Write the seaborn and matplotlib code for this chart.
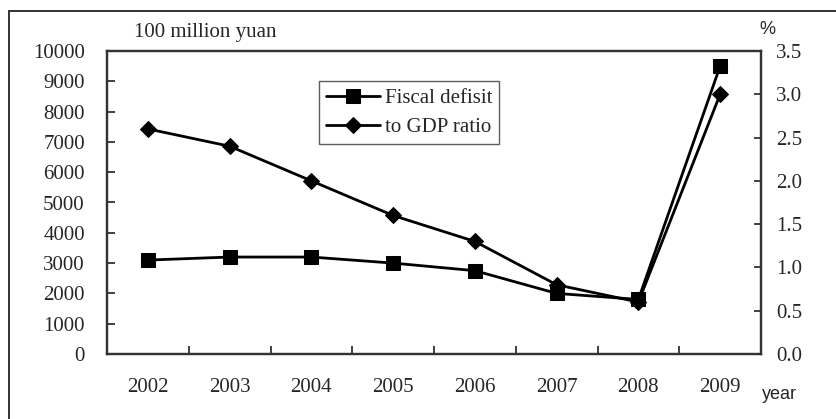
import matplotlib
matplotlib.use("Agg")
import matplotlib.pyplot as plt
from matplotlib.patches import Rectangle
from matplotlib.ticker import FixedLocator, NullFormatter
import seaborn as sns
import pandas as pd

# Data
years = ["2002", "2003", "2004", "2005", "2006", "2007", "2008", "2009"]
deficit = [3100, 3200, 3200, 3000, 2750, 2000, 1800, 9500]   # 100 million yuan
gdp_ratio = [2.6, 2.4, 2.0, 1.6, 1.3, 0.8, 0.6, 3.0]         # %

left_ticks = [0, 1000, 2000, 3000, 4000, 5000, 6000, 7000, 8000, 9000, 10000]
right_ticks = [0.0, 0.5, 1.0, 1.5, 2.0, 2.5, 3.0, 3.5]

sns.set_style("white")
plt.rcParams["font.family"] = ["Liberation Serif", "DejaVu Serif"]
FS = 15

df = pd.DataFrame({"pos": range(len(years)), "year": years,
                   "deficit": deficit, "ratio": gdp_ratio})

fig = plt.figure(figsize=(8.37, 4.19), dpi=100)
ax = fig.add_axes([107 / 837, 65 / 419, 654 / 837, 303 / 419])
ax2 = ax.twinx()

sns.lineplot(data=df, x="pos", y="deficit", ax=ax, color="black",
             marker="s", markersize=10.5, markeredgecolor="black",
             linewidth=2.0, label="Fiscal defisit", legend=False)
sns.lineplot(data=df, x="pos", y="ratio", ax=ax2, color="black",
             marker="D", markersize=8.5, markeredgecolor="black",
             linewidth=2.0, label="to GDP ratio", legend=False)

ax.set_xlim(-0.5, len(years) - 0.5)
ax.set_ylim(0, 10000)
ax2.set_ylim(0, 3.5)

ax.xaxis.set_major_locator(FixedLocator(range(len(years))))
ax.set_xticklabels(years)
ax.xaxis.set_minor_locator(FixedLocator([i + 0.5 for i in range(len(years) - 1)]))
ax.xaxis.set_minor_formatter(NullFormatter())
ax.set_yticks(left_ticks)
ax.set_yticklabels([str(v) for v in left_ticks])
ax2.set_yticks(right_ticks)
ax2.set_yticklabels([f"{v:.1f}" for v in right_ticks])

ax.tick_params(axis="x", which="major", length=0, pad=17, labelsize=FS)
ax.tick_params(axis="x", which="minor", direction="in", length=5.5,
               width=1.3, bottom=True, top=False, color="#333333")
ax.tick_params(axis="y", direction="in", length=5.5, width=1.3,
               pad=16, labelsize=FS, left=True, color="#333333")
ax2.tick_params(axis="y", direction="in", length=5, width=1.3,
                pad=11, labelsize=FS, right=True, color="#333333")

ax.set_xlabel("")
ax.set_ylabel("")
ax2.set_ylabel("")
for a in (ax, ax2):
    for s in a.spines.values():
        s.set_color("#333333")
        s.set_linewidth(1.6)

# Axis captions
fig.text(205 / 837, 1 - 32 / 419, "100 million yuan", fontsize=FS,
         ha="center", va="center")
fig.text(767 / 837, 1 - 29 / 419, "%", fontsize=13, ha="center",
         va="center", family=["Liberation Sans Narrow", "Liberation Sans", "DejaVu Sans"])
fig.text(779 / 837, 1 - 394 / 419, "year", fontsize=13, ha="center",
         va="center", family=["Liberation Sans", "DejaVu Sans"])

# Legend
h1, l1 = ax.get_legend_handles_labels()
h2, l2 = ax2.get_legend_handles_labels()
leg = ax2.legend(h1 + h2, l1 + l2, loc="upper left",
                 bbox_to_anchor=((319 - 107) / 654, (354 - 81) / 303),
                 fontsize=FS, frameon=True, fancybox=False,
                 handlelength=2.6, handletextpad=0.2, borderpad=0.35,
                 labelspacing=0.45, borderaxespad=0)
leg.get_frame().set_edgecolor("#333333")
leg.get_frame().set_linewidth(1.0)

# Outer frame around the figure
fig.patches.append(Rectangle((9 / 837, -0.05), 1.0, 1 - 11 / 419 + 0.05,
                             transform=fig.transFigure, fill=False,
                             edgecolor="#222222", linewidth=1.3))

fig.savefig("out.png", dpi=100)
